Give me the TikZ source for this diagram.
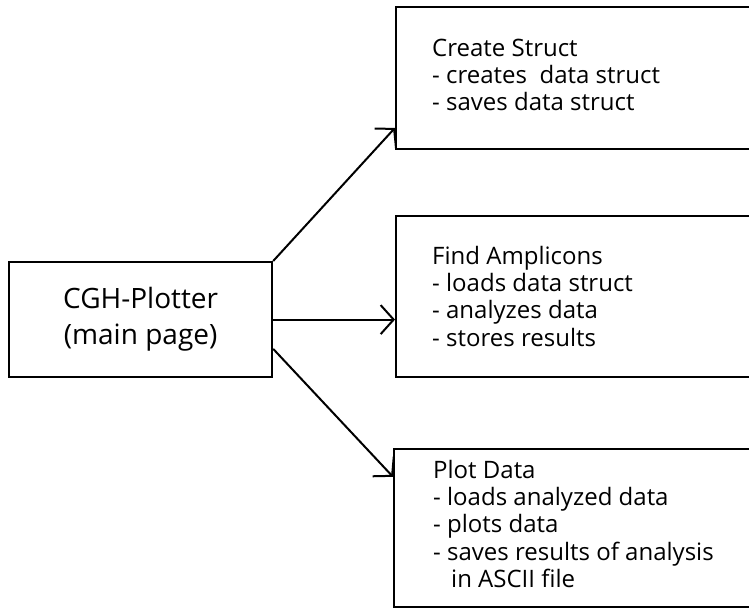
\documentclass[tikz,border=0pt]{standalone}
\usepackage{fontspec}
\setmainfont{Open Sans}
\usetikzlibrary{arrows.meta,calc}
\begin{document}
\begin{tikzpicture}[x=1pt,y=-1pt,
  box/.style={draw, line width=2.2pt, inner sep=0pt, anchor=north west},
  lbl/.style={anchor=north west, align=left, inner sep=0pt, font=\fontsize{24}{27.2}\selectfont},
  arr/.style={line width=2pt, -{Straight Barb[length=13pt,width=29pt,line width=2pt]}}]
\useasboundingbox (0,0) rectangle (749,609);
\clip (0,0) rectangle (749,609);
% main box
\node[box, minimum width=263pt, minimum height=115pt, align=center,
      font=\fontsize{28}{36}\selectfont] (main) at (8,261) {CGH-Plotter\\(main page)};
% right boxes (cut off by the right edge)
\node[box, minimum width=380pt, minimum height=142pt] (cs) at (395,6) {};
\node[box, minimum width=380pt, minimum height=161pt] (fa) at (395,215) {};
\node[box, minimum width=380pt, minimum height=158pt] (pd) at (393,448) {};
% texts
\node[lbl] (cst) at (432,38.5) {Create Struct\\- creates\ \ data struct\\- saves data struct};
\node[lbl] (fat) at (432,246) {Find Amplicons\\- loads data struct\\- analyzes data\\- stores results};
\node[lbl] (pdt) at (433,460) {Plot Data\\- loads analyzed data\\- plots data\\- saves results of analysis\\\hspace*{18pt}in ASCII file};
% connectors
\draw[arr] (main.north east) -- ($(cs.north west)!0.845!(cs.south west)$);
\draw[arr] (main.east) -- (main.east -| fa.west);
\draw[arr] ($(main.north east)!0.75!(main.south east)$) -- ($(pd.north west)!0.18!(pd.south west)$);
\end{tikzpicture}
\end{document}
